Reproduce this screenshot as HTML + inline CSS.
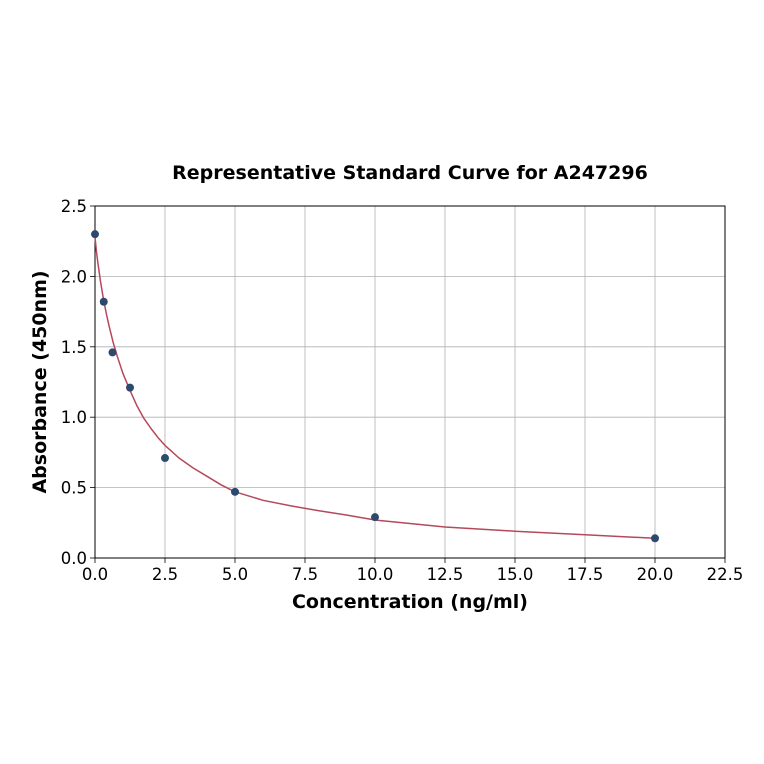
<!DOCTYPE html>
<html><head><meta charset="utf-8"><style>
html,body{margin:0;padding:0;background:#fff;}
svg{display:block;font-family:"DejaVu Sans","Liberation Sans",sans-serif;}
</style></head><body>
<svg id="chart" width="764" height="764" viewBox="0 0 764 764">
<rect width="764" height="764" fill="#fff"/>
<text x="410" y="179" text-anchor="middle" font-size="19" font-weight="bold">Representative Standard Curve for A247296</text>
<g id="grid"></g>
<g id="axes"></g>
<g id="series"></g>
<text x="410" y="608" text-anchor="middle" font-size="19" font-weight="bold">Concentration (ng/ml)</text>
<text transform="translate(46,382) rotate(-90)" text-anchor="middle" font-size="19" font-weight="bold">Absorbance (450nm)</text>
</svg>
<script>
const concentrations = [0, 0.3125, 0.625, 1.25, 2.5, 5, 10, 20];
const absorbances = [2.30, 1.82, 1.46, 1.21, 0.71, 0.47, 0.29, 0.14];
const curveX = [0,0.05,0.1,0.2,0.3,0.4,0.5,0.65,0.8,1,1.25,1.5,1.75,2,2.25,2.5,2.75,3,3.5,4,4.5,5,6,7,8,9,10,12.5,15,17.5,20];
const curveY = [2.28,2.18,2.10,1.96,1.84,1.74,1.65,1.53,1.43,1.31,1.19,1.08,0.99,0.92,0.855,0.80,0.755,0.71,0.64,0.58,0.52,0.47,0.41,0.37,0.335,0.305,0.27,0.22,0.19,0.165,0.14];
const xTicks = [0,2.5,5,7.5,10,12.5,15,17.5,20,22.5];
const xTickLabels = ["0.0","2.5","5.0","7.5","10.0","12.5","15.0","17.5","20.0","22.5"];
const yTicks = [0,0.5,1,1.5,2,2.5];
const yTickLabels = ["0.0","0.5","1.0","1.5","2.0","2.5"];

const X0=95,X1=725,Y0=558,Y1=206;
const sx=v=>X0+(v-0)/(22.5-0)*(X1-X0);
const sy=v=>Y0-(v-0)/(2.5-0)*(Y0-Y1);
const NS="http://www.w3.org/2000/svg";
function mk(tag,attrs,parent){const e=document.createElementNS(NS,tag);for(const k in attrs)e.setAttribute(k,attrs[k]);parent.appendChild(e);return e;}
const grid=document.getElementById('grid'),axes=document.getElementById('axes'),series=document.getElementById('series');

xTicks.forEach((t,i)=>{
  const x=sx(t);
  const g=mk('line',{x1:x,x2:x,y1:Y1,y2:Y0,stroke:'#b0b0b0','stroke-width':0.8},grid);
  
  
  const tk=mk('line',{x1:x,x2:x,y1:Y0,y2:Y0+5,stroke:'#000','stroke-width':0.8},axes);
  
  
  const tl=mk('text',{x:x,y:Y0+22,'text-anchor':'middle','font-size':16.5},axes);
  tl.textContent=xTickLabels[i];
  
  
});
yTicks.forEach((t,i)=>{
  const y=sy(t);
  const g=mk('line',{x1:X0,x2:X1,y1:y,y2:y,stroke:'#b0b0b0','stroke-width':0.8},grid);
  
  
  const tk=mk('line',{x1:X0-5,x2:X0,y1:y,y2:y,stroke:'#000','stroke-width':0.8},axes);
  
  
  const tl=mk('text',{x:X0-8,y:y+6,'text-anchor':'end','font-size':16.5},axes);
  tl.textContent=yTickLabels[i];
  
  
});
const frame=mk('rect',{x:X0,y:Y1,width:X1-X0,height:Y0-Y1,fill:'none',stroke:'#000','stroke-width':1},axes);



const d=curveX.map((v,i)=>(i?'L':'M')+sx(v).toFixed(1)+','+sy(curveY[i]).toFixed(1)).join(' ');
const path=mk('path',{d:d,fill:'none',stroke:'#b5495b','stroke-width':1.5,'stroke-linejoin':'round'},series);



concentrations.forEach((c,i)=>{
  const p=mk('circle',{cx:sx(c),cy:sy(absorbances[i]),r:4,fill:'#2c4a6e'},series);
  
  
});
</script>
</body></html>
